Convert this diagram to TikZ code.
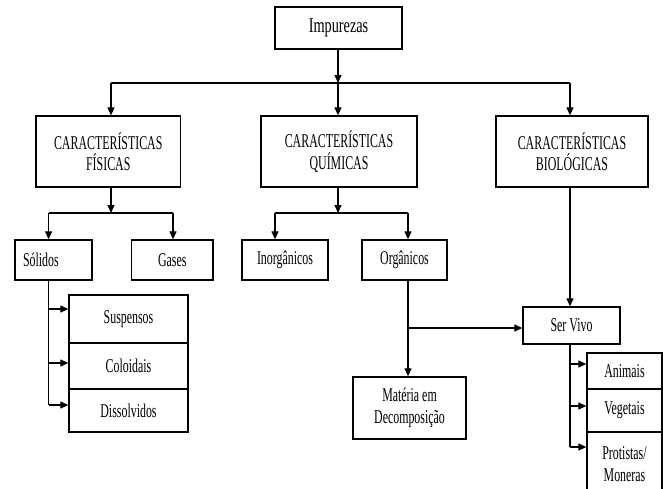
\documentclass[tikz,border=0pt]{standalone}
\usepackage{fontspec}
\setmainfont{Liberation Serif}[FakeStretch=0.61]
\newfontfamily\impfont{Liberation Serif}[FakeStretch=0.68]
\usetikzlibrary{arrows.meta}
\begin{document}
\begin{tikzpicture}[x=1pt,y=-1pt,
  box/.style={draw, line width=1.3pt, inner sep=0pt, align=center,
    font=\fontsize{19.5}{21.5}\selectfont},
  arr/.style={line width=1.2pt, -{Triangle[length=8pt,width=7pt]}},
  ln/.style={line width=1.2pt}]
\useasboundingbox (0,0) rectangle (663,488);
\clip (0,0) rectangle (663,488);
% boxes
\node[box, minimum width=127pt, minimum height=42pt, font=\impfont\fontsize{21}{22}\selectfont] (imp) at (338.5,28) {Impurezas};
\node[box, minimum width=144.5pt, minimum height=71pt] (cf) at (108.25,151.5) {CARACTERÍSTICAS\\FÍSICAS};
\node[box, minimum width=156pt, minimum height=71pt] (cq) at (339,151.5) {CARACTERÍSTICAS\\QUÍMICAS};
\node[box, minimum width=152pt, minimum height=71pt] (cb) at (572,151.5) {CARACTERÍSTICAS\\BIOLÓGICAS};
\node[box, minimum width=77pt, minimum height=40pt, text width=61pt, align=left] (sol) at (53.5,260) {Sólidos};
\node[box, minimum width=81.5pt, minimum height=40pt] (gas) at (172.25,260) {Gases};
\node[box, minimum width=86pt, minimum height=40pt] (ino) at (285,260) {Inorgânicos};
\node[box, minimum width=85pt, minimum height=40pt] (org) at (404.5,260) {Orgânicos};
\node[box, minimum width=119pt, minimum height=48pt] (sus) at (128.5,319) {Suspensos};
\node[box, minimum width=119pt, minimum height=46pt] (col) at (128.5,366) {Coloidais};
\node[box, minimum width=119pt, minimum height=43pt] (dis) at (128.5,410.5) {Dissolvidos};
\node[box, minimum width=97pt, minimum height=37pt] (ser) at (571.5,325.5) {Ser Vivo};
\node[box, minimum width=113pt, minimum height=62pt] (mat) at (409.5,408) {Matéria em\\Decomposição};
\node[box, minimum width=75pt, minimum height=36pt] (ani) at (624.5,371) {Animais};
\node[box, minimum width=75pt, minimum height=43pt] (veg) at (624.5,410.5) {Vegetais};
\node[box, minimum width=75pt, minimum height=64pt] (pro) at (624.5,464) {Protistas/\\Moneras};
% junction coordinates
\coordinate (j0) at (338,83);
\coordinate (j0l) at (111,83);
\coordinate (j0r) at (570,83);
\coordinate (j1) at (111,213);
\coordinate (j1l) at (48.6,213);
\coordinate (j1r) at (173,213);
\coordinate (j2) at (338,213);
\coordinate (j2l) at (275,213);
\coordinate (j2r) at (408,213);
\coordinate (s1) at (48.6,309);
\coordinate (s2) at (48.6,363);
\coordinate (s3) at (48.6,405);
\coordinate (o1) at (408,328);
\coordinate (v1) at (570,364);
\coordinate (v2) at (570,406);
\coordinate (v3) at (570,447);
% level 1
\draw[arr] (imp.south -| j0) -- (j0);
\draw[ln] (j0l) -- (j0r);
\draw[arr] (j0l) -- (cf.north -| j0l);
\draw[arr] (j0) -- (cq.north -| j0);
\draw[arr] (j0r) -- (cb.north -| j0r);
% fisicas
\draw[arr] (cf.south -| j1) -- (j1);
\draw[ln] (j1l) -- (j1r);
\draw[arr] (j1l) -- (sol.north -| j1l);
\draw[arr] (j1r) -- (gas.north -| j1r);
% quimicas
\draw[arr] (cq.south -| j2) -- (j2);
\draw[ln] (j2l) -- (j2r);
\draw[arr] (j2l) -- (ino.north -| j2l);
\draw[arr] (j2r) -- (org.north -| j2r);
% solidos
\draw[ln] (sol.south -| s1) -- (s3);
\draw[arr] (s1) -- (sus.west |- s1);
\draw[arr] (s2) -- (col.west |- s2);
\draw[arr] (s3) -- (dis.west |- s3);
% organicos
\draw[arr] (org.south -| j2r) -- (mat.north -| j2r);
\draw[arr] (o1) -- (ser.west |- o1);
% biologicas
\draw[arr] (cb.south -| j0r) -- (ser.north -| j0r);
\draw[ln] (ser.south -| v1) -- (v3);
\draw[arr] (v1) -- (ani.west |- v1);
\draw[arr] (v2) -- (veg.west |- v2);
\draw[arr] (v3) -- (pro.west |- v3);
\end{tikzpicture}
\end{document}
